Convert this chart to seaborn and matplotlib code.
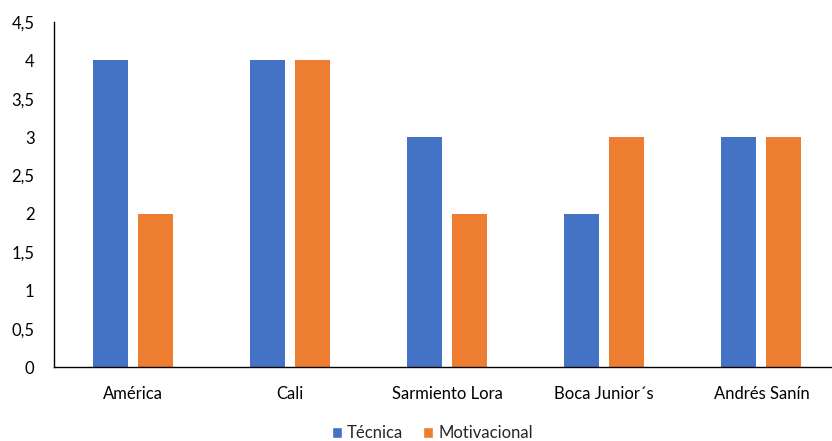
import pandas as pd
import numpy as np
import seaborn as sns
import matplotlib.pyplot as plt
from matplotlib.patches import Patch

equipos = ['América', 'Cali', 'Sarmiento Lora', 'Boca Junior´s', 'Andrés Sanín']
tecnica = [4, 4, 3, 2, 3]
motivacional = [2, 4, 2, 3, 3]
series = ['Técnica', 'Motivacional']
colores = ['#4472C4', '#ED7D31']

df = pd.DataFrame({
    'Equipo': equipos * 2,
    'Serie': [series[0]] * len(equipos) + [series[1]] * len(equipos),
    'Valor': tecnica + motivacional,
})

sns.set_style('white')
plt.rcParams['font.family'] = ['Lato', 'DejaVu Sans']

fig = plt.figure(figsize=(8.32, 4.41), dpi=100)
ax = fig.add_axes([0.0649, 0.1678, 0.9447, 0.7823])

sns.barplot(data=df, x='Equipo', y='Valor', hue='Serie', palette=colores,
            width=0.573, gap=0.222, ax=ax, legend=False, saturation=1,
            linewidth=0)

ax.set_xlim(-0.5, 4.5)
ax.set_ylim(0, 4.5)
ax.set_yticks(np.arange(0, 4.51, 0.5))
ax.set_yticklabels([f'{v:g}'.replace('.', ',') for v in np.arange(0, 4.51, 0.5)])
ax.set_xlabel('')
ax.set_ylabel('')
ax.tick_params(axis='both', length=0, labelsize=12, colors='#000000')
ax.tick_params(axis='x', pad=14)
ax.tick_params(axis='y', pad=14)
for s in ['top', 'right']:
    ax.spines[s].set_visible(False)
for s in ['left', 'bottom']:
    ax.spines[s].set_color('#000000')
    ax.spines[s].set_linewidth(1)

handles = [Patch(facecolor=c, label=l) for c, l in zip(colores, series)]
fig.legend(handles=handles, loc='lower center', ncol=2, frameon=False,
           bbox_to_anchor=(0.52, -0.035), fontsize=12,
           handlelength=0.6, handleheight=0.6, handletextpad=0.3, columnspacing=1.2)

fig.savefig('out.png', dpi=100)
